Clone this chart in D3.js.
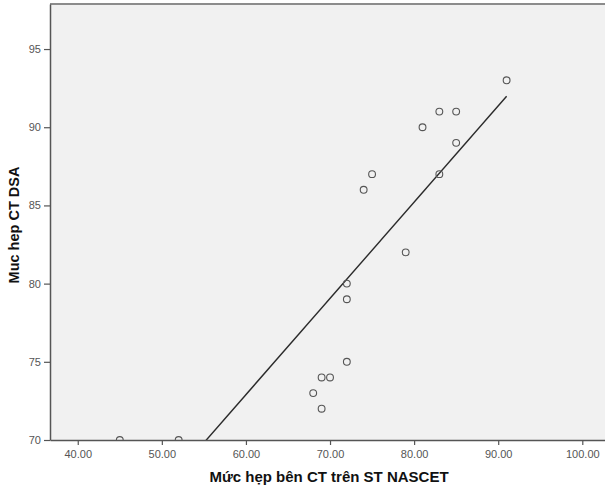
<!DOCTYPE html>
<html>
<head>
<meta charset="utf-8">
<script src="https://cdn.jsdelivr.net/npm/d3@7"></script>
<style>
  body { margin: 0; background: #fff; }
  svg { display: block; font-family: 'Liberation Sans', Arial, sans-serif; }
</style>
</head>
<body>
<script>
// stenosis by CT (NASCET) vs by DSA
const nascet = [45, 52, 91, 83, 85, 81, 85, 83, 75, 74, 79, 72, 72, 72, 69, 70, 68, 69]
const dsa = [70, 70, 93, 91, 91, 90, 89, 87, 87, 86, 82, 80, 79, 75, 74, 74, 73, 72]
const xTicks = [40, 50, 60, 70, 80, 90, 100]
const yTicks = [70, 75, 80, 85, 90, 95]

const width = 605
const height = 490
const plotL = 50, plotT = 4, plotR = 610, plotB = 440

const xScale = d3.scaleLinear().domain([36.7, 102.7]).range([plotL, 605])
const yScale = d3.scaleLinear().domain([70, 97.88]).range([plotB, plotT])

const svg = d3.select('body').append('svg')
  .attr('width', width)
  .attr('height', height)

svg.append('defs').append('clipPath').attr('id', 'plot')
  .append('rect')
  .attr('x', plotL).attr('y', plotT)
  .attr('width', plotR - plotL).attr('height', plotB - plotT)

svg.append('rect')
  .attr('x', plotL).attr('y', plotT)
  .attr('width', plotR - plotL).attr('height', plotB - plotT)
  .attr('fill', '#f1f1f1')

// top frame line
svg.append('line')
  .attr('x1', plotL).attr('x2', plotR)
  .attr('y1', plotT).attr('y2', plotT)
  .attr('stroke', '#8c8c8c')
  .attr('stroke-width', 2)

// least squares fit line
const mx = d3.mean(nascet), my = d3.mean(dsa)
let sxy = 0, sxx = 0
nascet.forEach((x, i) => {
  sxy += (x - mx) * (dsa[i] - my)
  sxx += (x - mx) * (x - mx)
})
const slope = sxy / sxx
const icpt = my - slope * mx
const x0 = d3.min(nascet), x1 = d3.max(nascet)

const g = svg.append('g').attr('clip-path', 'url(#plot)')

g.append('line')
  .attr('x1', xScale(x0)).attr('y1', yScale(icpt + slope * x0))
  .attr('x2', xScale(x1)).attr('y2', yScale(icpt + slope * x1))
  .attr('stroke', '#2a2a2a')
  .attr('stroke-width', 1.4)

g.selectAll('circle')
  .data(nascet)
  .enter()
  .append('circle')
  .attr('cx', (d) => xScale(d))
  .attr('cy', (d, i) => yScale(dsa[i]))
  .attr('r', 3.4)
  .attr('fill', 'none')
  .attr('stroke', '#555')
  .attr('stroke-width', 1.1)

const xAxis = d3.axisBottom(xScale).tickValues(xTicks).tickFormat(d3.format('.2f')).tickSize(5).tickSizeOuter(0)
const yAxis = d3.axisLeft(yScale).tickValues(yTicks).tickFormat(d3.format('d')).tickSize(6).tickSizeOuter(0)

const gx = svg.append('g')
  .attr('transform', 'translate(0,' + plotB + ')')
  .call(xAxis)
const gy = svg.append('g')
  .attr('transform', 'translate(' + plotL + ',0)')
  .call(yAxis)

for (const ax of [gx, gy]) {
  ax.select('.domain').attr('stroke', '#555').attr('stroke-width', 1.5)
  ax.selectAll('.tick line').attr('stroke', '#555').attr('stroke-width', 1.2)
  ax.selectAll('.tick text').attr('fill', '#555').attr('font-size', '11px')
}
gx.selectAll('.tick text').attr('dy', '0.9em')

svg.append('text')
  .attr('x', 329)
  .attr('y', 482)
  .attr('text-anchor', 'middle')
  .attr('font-size', '15px')
  .attr('font-weight', 'bold')
  .attr('fill', '#111')
  .text('Mức hẹp bên CT trên ST NASCET')

svg.append('text')
  .attr('x', -225)
  .attr('y', 19)
  .attr('transform', 'rotate(-90)')
  .attr('text-anchor', 'middle')
  .attr('font-size', '14.5px')
  .attr('font-weight', 'bold')
  .attr('fill', '#111')
  .text('Muc hep CT DSA')
</script>
</body>
</html>
